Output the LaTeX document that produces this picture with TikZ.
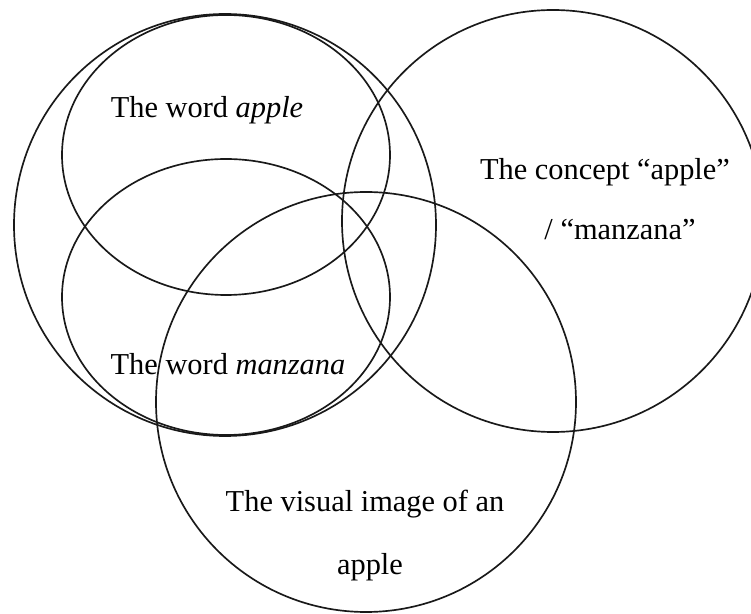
\documentclass[tikz,border=0pt]{standalone}
\usepackage{fontspec}
\setmainfont{Liberation Serif}

\begin{document}
\begin{tikzpicture}[x=0.02cm, y=-0.02cm,
    ring/.style={draw=black!90, line width=0.95pt},
    lbl/.style={font=\fontsize{17.3}{20}\selectfont, anchor=base, inner sep=0pt}]
    \clip (0,0) rectangle (751,614);
    % the word, in both languages
    \draw[ring] (225,225) circle [radius=211];
    \draw[ring] (226,155) ellipse [x radius=164, y radius=140];
    \draw[ring] (226,297) ellipse [x radius=164, y radius=138];
    % concept and image
    \draw[ring] (553,221) circle [radius=211];
    \draw[ring] (366,402) circle [radius=210];
    % labels
    \node[lbl] (wapple) at (207,118) {The word \textit{apple}};
    \node[lbl] (wmanz) at (228,375) {The word \textit{manzana}};
    \node[lbl] (concA) at (605,180) {The concept “apple”};
    \node[lbl] (concB) at (620,240) {/ “manzana”};
    \node[lbl] (visA) at (365,512) {The visual image of an};
    \node[lbl] (visB) at (370,575) {apple};
\end{tikzpicture}
\end{document}
